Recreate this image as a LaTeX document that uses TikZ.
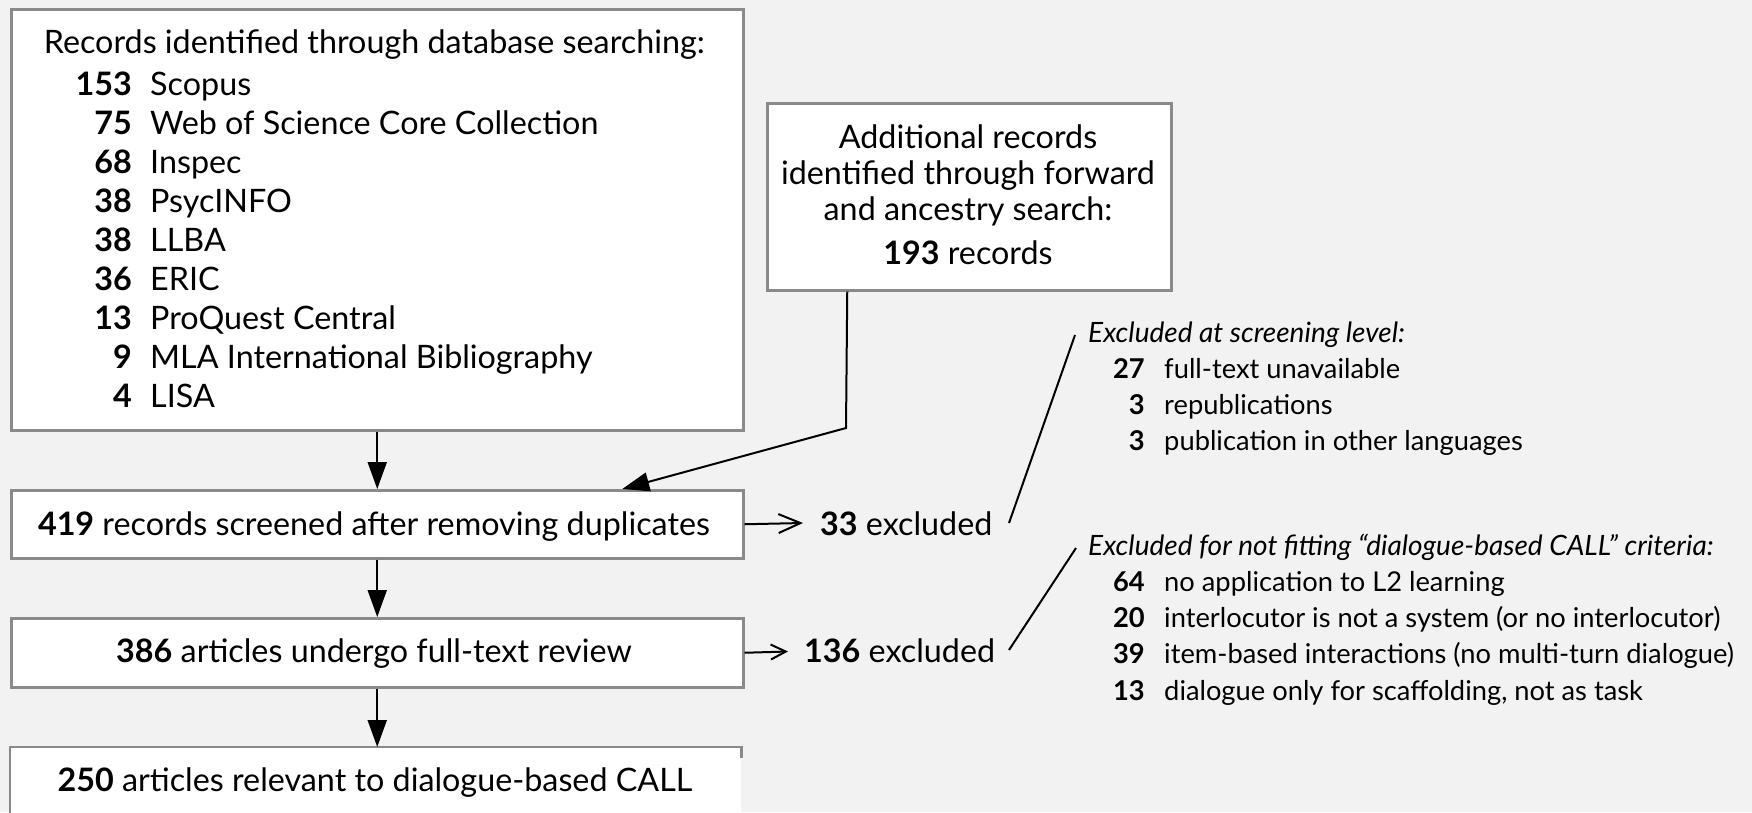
\documentclass[tikz,border=0pt]{standalone}
\usepackage{fontspec}
\setmainfont{Lato}
\usetikzlibrary{arrows.meta}
\definecolor{bgcol}{HTML}{F2F2F2}
\definecolor{framecol}{HTML}{8A8A8A}

\begin{document}
\begin{tikzpicture}[x=1pt,y=-1pt,
  box/.style={draw=framecol, line width=2.5pt, fill=white, inner sep=0pt},
  bigtxt/.style={inner sep=0pt, font=\fontsize{32.3}{38}\selectfont},
  smalltxt/.style={inner sep=0pt, font=\fontsize{27.3}{32}\selectfont},
  headtxt/.style={inner sep=0pt, font=\fontsize{28}{33}\selectfont\itshape},
  flow/.style={line width=2pt, -{Triangle[length=27pt,width=19pt]}},
  side/.style={line width=2pt, -{Straight Barb[length=22pt,width=19pt]}},
  sidesmall/.style={line width=2pt, -{Straight Barb[length=15pt,width=15pt]}},
  lead/.style={line width=2pt},
  edge/.style={draw=framecol, line width=2.5pt},
]
\useasboundingbox (0,0) rectangle (1752,812);
\clip (0,0) rectangle (1752,812);
\fill[bgcol] (0,0) rectangle (1752,812);

% boxes
\node[box, anchor=north west, minimum width=732pt, minimum height=421pt] (src) at (10,8) {};
\node[box, anchor=north west, minimum width=404pt, minimum height=187pt] (add) at (766,102) {};
\node[box, anchor=north west, minimum width=732pt, minimum height=68pt] (scr) at (10,489) {};
\node[box, anchor=north west, minimum width=732pt, minimum height=69pt] (rev) at (10,617) {};
\node[fill=white, inner sep=0pt, anchor=north west, minimum width=731pt, minimum height=100pt] (fin) at (10,747) {};
\draw[edge] ([yshift=-11pt]fin.north east) -- (fin.north east) -- (fin.north west) -- (fin.south west);

% database searching list
\node[bigtxt, anchor=base west] (srchead) at (43.6,53.3) {Records identified through database searching:};
\foreach \n/\name [count=\i] in {153/Scopus, 75/Web of Science Core Collection, 68/Inspec, 38/PsycINFO, 38/LLBA, 36/ERIC, 13/ProQuest Central, 9/MLA International Bibliography, 4/LISA}{
  \node[bigtxt, anchor=base east] (srcn\i) at (132,{95+39*(\i-1)}) {\bfseries\n};
  \node[bigtxt, anchor=base west] (srct\i) at (150,{95+39*(\i-1)}) {\name};
}

% forward and ancestry search
\node[bigtxt, anchor=base] (add1) at (968,148) {Additional records};
\node[bigtxt, anchor=base] (add2) at (968,184) {identified through forward};
\node[bigtxt, anchor=base] (add3) at (968,220) {and ancestry search:};
\node[bigtxt, anchor=base] (add4) at (968,264) {\textbf{193} records};

% flow labels
\node[bigtxt, anchor=base] (scrt) at (374,535) {\textbf{419} records screened after removing duplicates};
\node[bigtxt, anchor=base] (revt) at (374,662) {\textbf{386} articles undergo full-text review};
\node[bigtxt, anchor=base] (fint) at (375,791) {\textbf{250} articles relevant to dialogue-based CALL};
\node[bigtxt, anchor=base west] (ex1) at (820,535) {\textbf{33} excluded};
\node[bigtxt, anchor=base west] (ex2) at (804,662) {\textbf{136} excluded};

% exclusion reasons
\node[headtxt, anchor=base west] (r1h) at (1088,342) {Excluded at screening level:};
\foreach \n/\name [count=\i] in {27/full-text unavailable, 3/republications, 3/publication in other languages}{
  \node[smalltxt, anchor=base east] (r1n\i) at (1145,{378.5+36.2*(\i-1)}) {\bfseries\n};
  \node[smalltxt, anchor=base west] (r1t\i) at (1164,{378.5+36.2*(\i-1)}) {\name};
}
\node[headtxt, anchor=base west] (r2h) at (1088,555) {Excluded for not fitting “dialogue-based CALL” criteria:};
\foreach \n/\name [count=\i] in {64/no application to L2 learning, 20/interlocutor is not a system (or no interlocutor), 39/item-based interactions (no multi-turn dialogue), 13/{dialogue only for scaffolding, not as task}}{
  \node[smalltxt, anchor=base east] (r2n\i) at (1145,{591.5+36.2*(\i-1)}) {\bfseries\n};
  \node[smalltxt, anchor=base west] (r2t\i) at (1164,{591.5+36.2*(\i-1)}) {\name};
}

% connectors
\coordinate (bend) at (846,428);
\coordinate (tip1) at (803,523);
\coordinate (tip2) at (788,651.5);
\coordinate (l1a) at (1009,523);
\coordinate (l1b) at (1075,335);
\coordinate (l2a) at (1009,650);
\coordinate (l2b) at (1076,548);

\draw[flow] (src.south) -- (scr.north);
\draw[flow] (scr.south) -- (rev.north);
\draw[flow] (rev.south) -- (fin.north -| rev.south);
\draw[flow] ([xshift=-122pt]add.south) -- (bend) -- ([xshift=245pt]scr.north);
\draw[side] (scr.east) -- (tip1);
\draw[sidesmall] (rev.east) -- (tip2);
\draw[lead] (l1a) -- (l1b);
\draw[lead] (l2a) -- (l2b);
\end{tikzpicture}
\end{document}
